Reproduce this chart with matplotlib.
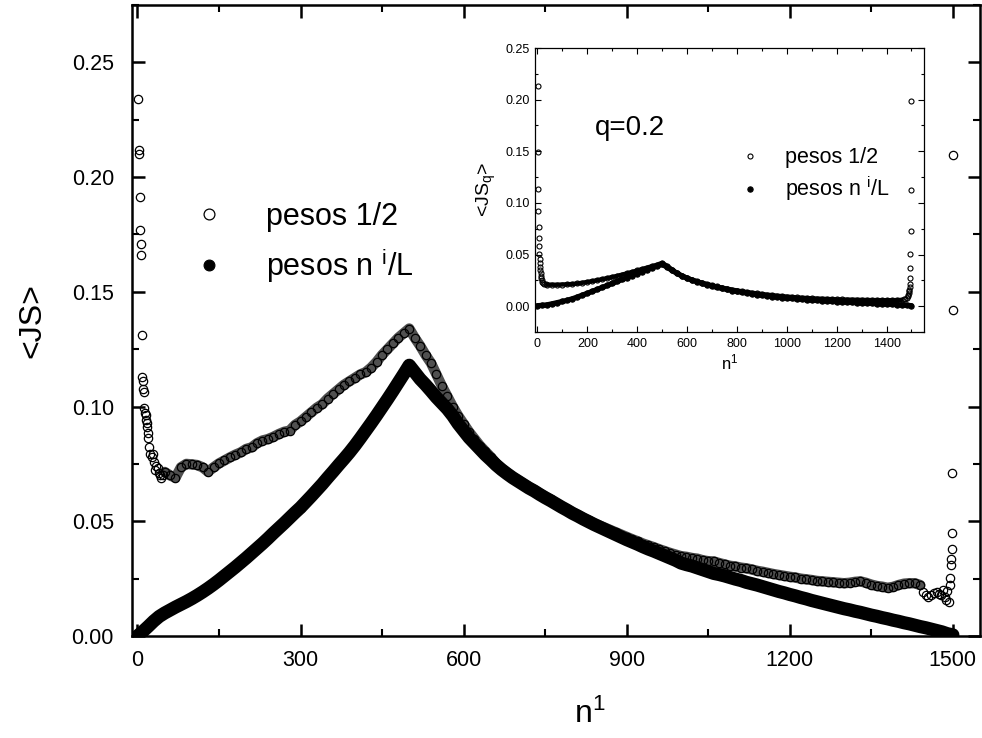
import matplotlib
matplotlib.use("Agg")
import matplotlib.pyplot as plt
from matplotlib.ticker import MultipleLocator, FormatStrFormatter

plt.rcParams['font.family'] = ['Liberation Sans', 'DejaVu Sans']
plt.rcParams['mathtext.default'] = 'regular'

# ---- main plot data: pesos 1/2 (open circles) ----
half_head_n = [1, 2, 3, 4, 5, 6, 7, 8, 9, 10, 11, 12, 13, 14, 15, 16, 17, 18, 19, 20,
               22, 24, 26, 28, 30, 32, 35, 38, 40, 42, 44, 47]
half_head_js = [0.234, 0.212, 0.210, 0.1915, 0.177, 0.171, 0.166, 0.131, 0.113, 0.111,
                0.1077, 0.1065, 0.0993, 0.0972, 0.0964, 0.0942, 0.0927, 0.0913, 0.0884, 0.0862,
                0.0825, 0.0793, 0.0780, 0.0793, 0.0760, 0.0724, 0.0740, 0.0731, 0.0709, 0.0700,
                0.0687, 0.0702]

half_body_n = list(range(50, 1450, 10))
half_body_js = [
    0.0715, 0.0700, 0.0690, 0.0735, 0.0750, 0.0748, 0.0745, 0.0735, 0.0716, 0.0735,
    0.0752, 0.0765, 0.0778, 0.0790, 0.0800, 0.0815, 0.0822, 0.0840, 0.0852, 0.0858,
    0.0868, 0.0880, 0.0890, 0.0895, 0.0920, 0.0935, 0.0955, 0.0975, 0.0995, 0.1010,
    0.1035, 0.1055, 0.1075, 0.1095, 0.1110, 0.1125, 0.1140, 0.1150, 0.1170, 0.1195,
    0.1225, 0.1250, 0.1275, 0.1300, 0.1320, 0.1340, 0.1300, 0.1265, 0.1225, 0.1190,
    0.1140, 0.1090, 0.1045, 0.1000, 0.0960, 0.0925, 0.0890, 0.0860, 0.0830, 0.0805,
    0.0780, 0.0752, 0.0730, 0.0712, 0.0695, 0.0680, 0.0665, 0.0650, 0.0637, 0.0622,
    0.0608, 0.0595, 0.0580, 0.0566, 0.0553, 0.0540, 0.0528, 0.0516, 0.0505, 0.0493,
    0.0482, 0.0472, 0.0462, 0.0452, 0.0442, 0.0432, 0.0422, 0.0413, 0.0403, 0.0395,
    0.0387, 0.0378, 0.0370, 0.0362, 0.0355, 0.0348, 0.0345, 0.0340, 0.0337, 0.0330,
    0.0326, 0.0325, 0.0318, 0.0312, 0.0306, 0.0303, 0.0298, 0.0295, 0.0290, 0.0284,
    0.0280, 0.0275, 0.0270, 0.0266, 0.0262, 0.0258, 0.0255, 0.0250, 0.0247, 0.0244,
    0.0240, 0.0238, 0.0236, 0.0234, 0.0232, 0.0230, 0.0232, 0.0236, 0.0238, 0.0232,
    0.0224, 0.0218, 0.0215, 0.0210, 0.0214, 0.0222, 0.0228, 0.0230, 0.0230, 0.0222]

half_tail_n = [1445, 1450, 1455, 1460, 1465, 1470, 1475, 1478, 1482, 1485, 1488, 1490,
               1492, 1494, 1495, 1496, 1497, 1498, 1498, 1499, 1500, 1500]
half_tail_js = [0.0190, 0.0178, 0.0171, 0.0180, 0.0188, 0.0193, 0.0185, 0.0180, 0.0200,
                0.0170, 0.0157, 0.0195, 0.0148, 0.0222, 0.0252, 0.0310, 0.0337, 0.0378,
                0.0448, 0.0709, 0.1421, 0.2097]

# ---- main plot data: pesos n^i/L (filled circles) ----
weighted_n = list(range(0, 1510, 10))
weighted_js = [
    0.0000, 0.0020, 0.0042, 0.0065, 0.0085, 0.0100, 0.0113, 0.0126, 0.0138, 0.0150,
    0.0163, 0.0177, 0.0192, 0.0208, 0.0225, 0.0243, 0.0262, 0.0281, 0.0300, 0.0320,
    0.0340, 0.0361, 0.0382, 0.0403, 0.0425, 0.0448, 0.0470, 0.0492, 0.0515, 0.0538,
    0.0560, 0.0585, 0.0610, 0.0636, 0.0662, 0.0690, 0.0717, 0.0745, 0.0772, 0.0800,
    0.0830, 0.0862, 0.0895, 0.0928, 0.0962, 0.0997, 0.1032, 0.1068, 0.1105, 0.1142,
    0.1180, 0.1150, 0.1120, 0.1095, 0.1068, 0.1040, 0.1015, 0.0990, 0.0960, 0.0925,
    0.0895, 0.0865, 0.0840, 0.0815, 0.0790, 0.0768, 0.0745, 0.0725, 0.0707, 0.0690,
    0.0675, 0.0660, 0.0645, 0.0632, 0.0617, 0.0603, 0.0590, 0.0576, 0.0562, 0.0549,
    0.0535, 0.0523, 0.0510, 0.0498, 0.0486, 0.0475, 0.0464, 0.0453, 0.0442, 0.0431,
    0.0420, 0.0410, 0.0400, 0.0389, 0.0379, 0.0370, 0.0360, 0.0350, 0.0340, 0.0330,
    0.0318, 0.0311, 0.0305, 0.0297, 0.0289, 0.0281, 0.0273, 0.0268, 0.0262, 0.0255,
    0.0248, 0.0242, 0.0234, 0.0228, 0.0222, 0.0215, 0.0208, 0.0201, 0.0194, 0.0188,
    0.0181, 0.0175, 0.0168, 0.0162, 0.0155, 0.0149, 0.0143, 0.0137, 0.0131, 0.0125,
    0.0119, 0.0114, 0.0108, 0.0103, 0.0097, 0.0091, 0.0086, 0.0080, 0.0075, 0.0069,
    0.0064, 0.0058, 0.0053, 0.0047, 0.0041, 0.0036, 0.0030, 0.0024, 0.0018, 0.0010,
    0.0005]

# ---- inset data (q=0.2) ----
in_half_head_n = [1, 2, 3, 4, 5, 6, 7, 8, 9, 10, 11, 12, 13, 14, 16, 18, 20, 24, 28, 34]
in_half_head_js = [0.2135, 0.149, 0.1135, 0.0925, 0.077, 0.0665, 0.058, 0.051, 0.046, 0.042,
                   0.038, 0.035, 0.032, 0.0295, 0.027, 0.025, 0.0235, 0.0225, 0.0218, 0.0213]
in_half_body_n = list(range(40, 1480, 20))
in_half_body_js = [
    0.0210, 0.0208, 0.0208, 0.0210, 0.0212, 0.0215, 0.0220, 0.0227, 0.0235, 0.0243,
    0.0252, 0.0262, 0.0272, 0.0283, 0.0294, 0.0306, 0.0319, 0.0332, 0.0346, 0.0360,
    0.0374, 0.0388, 0.0402, 0.0420,
    0.0390, 0.0355, 0.0322, 0.0296, 0.0275, 0.0257, 0.0241, 0.0227, 0.0214, 0.0202,
    0.0191, 0.0180, 0.0170, 0.0161, 0.0152, 0.0144, 0.0137, 0.0130, 0.0124, 0.0118,
    0.0112, 0.0107, 0.0102, 0.0097, 0.0093, 0.0089, 0.0085, 0.0082, 0.0079, 0.0076,
    0.0074, 0.0072, 0.0070, 0.0068, 0.0066, 0.0065, 0.0064, 0.0063, 0.0062, 0.0061,
    0.0060, 0.0059, 0.0059, 0.0058, 0.0058, 0.0058, 0.0059, 0.0061]
in_half_tail_n = [1470, 1475, 1480, 1484, 1487, 1489, 1490, 1491, 1492, 1493, 1494, 1495,
                  1496, 1497, 1498, 1499]
in_half_tail_js = [0.0065, 0.0072, 0.0082, 0.0095, 0.011, 0.0125, 0.0145, 0.016, 0.0187,
                   0.0219, 0.0274, 0.0374, 0.051, 0.0729, 0.1123, 0.199]

in_weighted_n = list(range(0, 1520, 20))
in_weighted_js = [
    0.0005, 0.0008, 0.0014, 0.0024, 0.0035, 0.0046, 0.0058, 0.0072, 0.0089, 0.0107,
    0.0125, 0.0144, 0.0163, 0.0182, 0.0201, 0.0220, 0.0240, 0.0259, 0.0278, 0.0297,
    0.0316, 0.0335, 0.0354, 0.0372, 0.0390, 0.0405,
    0.0378, 0.0346, 0.0317, 0.0292, 0.0271, 0.0252, 0.0236, 0.0221, 0.0207, 0.0195,
    0.0183, 0.0172, 0.0162, 0.0152, 0.0143, 0.0135, 0.0127, 0.0120, 0.0113, 0.0106,
    0.0100, 0.0094, 0.0089, 0.0084, 0.0079, 0.0075, 0.0071, 0.0067, 0.0063, 0.0059,
    0.0056, 0.0053, 0.0050, 0.0047, 0.0044, 0.0041, 0.0039, 0.0036, 0.0034, 0.0031,
    0.0029, 0.0027, 0.0024, 0.0022, 0.0020, 0.0018, 0.0015, 0.0012, 0.0009, 0.0005]

label_half = 'pesos 1/2'
label_weighted = 'pesos n $^{i}$/L'

half_n = half_head_n + half_body_n + half_tail_n
half_js = half_head_js + half_body_js + half_tail_js
in_half_n = in_half_head_n + in_half_body_n + in_half_tail_n
in_half_js = in_half_head_js + in_half_body_js + in_half_tail_js

fig = plt.figure(figsize=(9.82, 7.38), dpi=100)

# main axes -- the original has one marker per n, so the bands are filled in
# with a thick stroke through the same points
ax = fig.add_axes([0.1344, 0.1382, 0.8636, 0.855])
ax.plot(half_body_n, half_body_js, '-', lw=7.5, color='#505050', solid_capstyle='round')
ax.plot(half_n, half_js, 'o', ms=6, mfc='none', mec='black', mew=0.9, label=label_half)
ax.plot(weighted_n, weighted_js, '-', lw=9.5, color='black', solid_capstyle='round')
ax.plot(weighted_n, weighted_js, 'o', ms=6, mfc='black', mec='black', mew=0.8,
        label=label_weighted)
ax.set_xlim(-10, 1550)
ax.set_ylim(0, 0.275)
ax.xaxis.set_major_locator(MultipleLocator(300))
ax.xaxis.set_minor_locator(MultipleLocator(150))
ax.yaxis.set_major_locator(MultipleLocator(0.05))
ax.yaxis.set_minor_locator(MultipleLocator(0.025))
ax.yaxis.set_major_formatter(FormatStrFormatter('%.2f'))
ax.tick_params(which='both', direction='in', top=True, right=True, labelsize=15.5)
ax.tick_params(which='major', length=9, width=1.8)
ax.tick_params(which='minor', length=5, width=1.5)
ax.tick_params(axis='x', which='major', pad=10)
ax.tick_params(axis='y', which='major', pad=13)
for s in ax.spines.values():
    s.set_linewidth(1.8)
ax.set_xlabel('n$^{1}$', fontsize=23)
ax.set_ylabel('<JS>', fontsize=23)
ax.xaxis.set_label_coords(0.54, -0.1)
ax.yaxis.set_label_coords(-0.1, 0.5)
ax.legend(loc='upper left', bbox_to_anchor=(0.075, 0.688), frameon=False, fontsize=22,
          handlelength=0.85, handletextpad=1.45, labelspacing=0.45, borderpad=0,
          borderaxespad=0, markerscale=1.3)

# inset axes
axi = fig.add_axes([0.5448, 0.5501, 0.3961, 0.3848])
axi.plot(in_half_body_n, in_half_body_js, '-', lw=3.2, color='black', solid_capstyle='round')
axi.plot(in_half_n, in_half_js, 'o', ms=3.6, mfc='none', mec='black', mew=0.8,
         label=label_half)
axi.plot(in_weighted_n, in_weighted_js, '-', lw=3.8, color='black', solid_capstyle='round')
axi.plot(in_weighted_n, in_weighted_js, 'o', ms=3.8, mfc='black', mec='black', mew=0.8,
         label=label_weighted)
axi.set_xlim(-10, 1550)
axi.set_ylim(-0.025, 0.25)
axi.xaxis.set_minor_locator(MultipleLocator(100))
axi.yaxis.set_major_locator(MultipleLocator(0.05))
axi.yaxis.set_minor_locator(MultipleLocator(0.025))
axi.yaxis.set_major_formatter(FormatStrFormatter('%.2f'))
axi.set_xticks(range(0, 1600, 200))
axi.set_xticklabels([str(v) for v in range(0, 1600, 200)])
axi.tick_params(which='both', direction='in', top=True, right=True, labelsize=9)
axi.tick_params(which='major', length=4, width=0.8, pad=4)
axi.tick_params(which='minor', length=2, width=0.8)
for s in axi.spines.values():
    s.set_linewidth(0.9)
axi.set_xlabel('n$^{1}$', fontsize=12, labelpad=2)
axi.set_ylabel('<JS$_{q}$>', fontsize=14, labelpad=5)
axi.text(0.245, 0.72, 'q=0.2', transform=axi.transAxes, fontsize=20,
         ha='center', va='center')
axi.legend(loc='upper left', bbox_to_anchor=(0.54, 0.65), frameon=False, fontsize=15.5,
           handlelength=0.5, handletextpad=1.35, labelspacing=0.3, borderpad=0,
           borderaxespad=0)

fig.savefig('out.png', dpi=100)
